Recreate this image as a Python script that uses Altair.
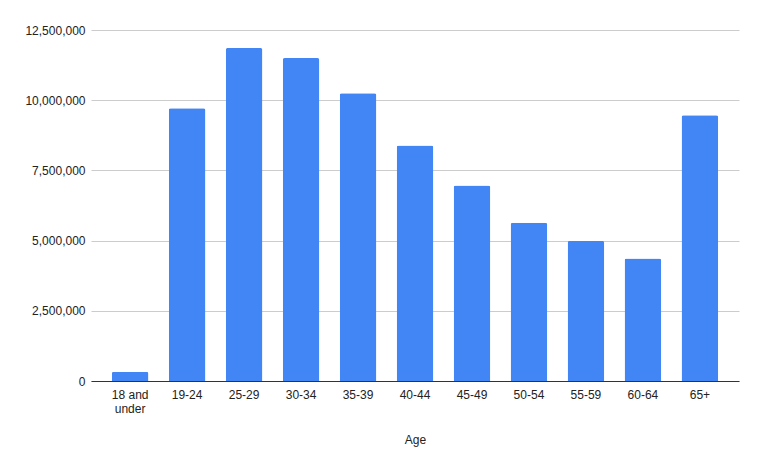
import altair as alt
import pandas as pd

ages = ["18 and under", "19-24", "25-29", "30-34", "35-39", "40-44",
        "45-49", "50-54", "55-59", "60-64", "65+"]
counts = [330000, 9710000, 11860000, 11500000, 10250000, 8390000,
          6960000, 5640000, 4990000, 4360000, 9460000]

df = pd.DataFrame({"Age": ages, "Count": counts})

chart = alt.Chart(df).mark_bar(
    color="#4285F4", cornerRadiusTopLeft=2, cornerRadiusTopRight=2
).encode(
    x=alt.X("Age:N", sort=ages,
            scale=alt.Scale(paddingInner=0.357, paddingOuter=0.365),
            axis=alt.Axis(title="Age", labelAngle=0, ticks=False,
                          labelPadding=8, labelFontSize=12, labelColor="#222222",
                          labelFont="Liberation Sans", titleFont="Liberation Sans",
                          titleFontSize=12, titleFontWeight="normal", titleColor="#222222",
                          titlePadding=20, domainColor="#333333", labelLineHeight=14,
                          labelExpr="datum.label == '18 and under' ? ['18 and', 'under'] : datum.label")),
    y=alt.Y("Count:Q",
            scale=alt.Scale(domain=[0, 12500000], nice=False),
            axis=alt.Axis(title=None, values=[0, 2500000, 5000000, 7500000, 10000000, 12500000],
                          format=",.0f", ticks=False, domain=False, labelPadding=6,
                          labelFontSize=12, labelColor="#222222", labelFont="Liberation Sans",
                          gridColor="#cccccc")),
).properties(
    width=648, height=351,
    autosize=alt.AutoSizeParams(type="none"),
    padding={"left": 83, "top": 22, "right": 15, "bottom": 70},
).configure_view(stroke=None)

chart.save("out.html", embed_options={"renderer": "svg", "actions": False})
